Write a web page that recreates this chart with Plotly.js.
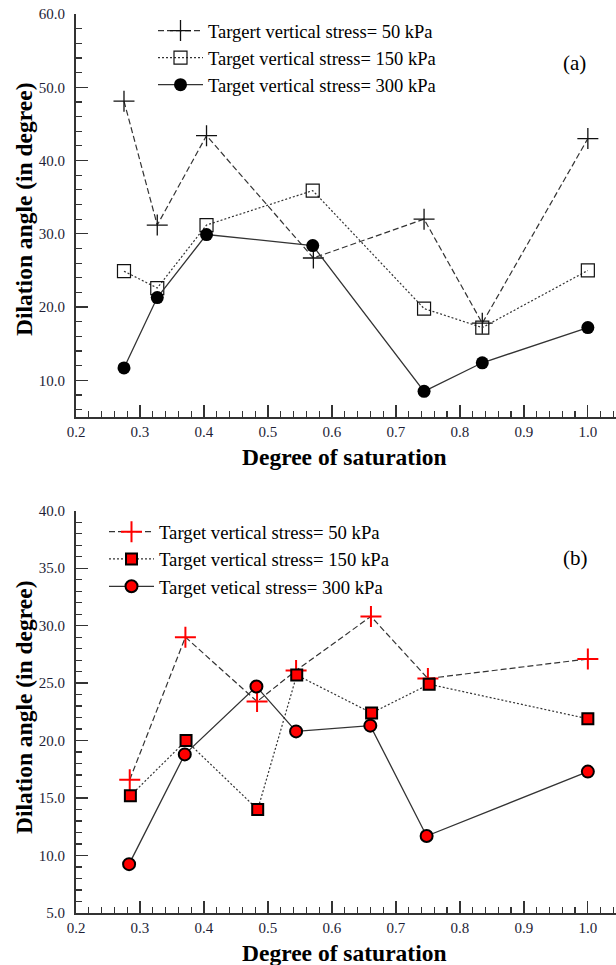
<!DOCTYPE html>
<html>
<head>
<meta charset="utf-8">
<script src="https://cdn.plot.ly/plotly-3.0.1.min.js"></script>
<style>
html,body{margin:0;padding:0;background:#fff;}
#chart{width:616px;height:965px;}
</style>
</head>
<body>
<div id="chart"></div>
<script>
// ---------- Data: panel (a) ----------
const legendA = ["Targert vertical stress= 50 kPa", "Target vertical stress= 150 kPa", "Target vertical stress= 300 kPa"];
const xA50  = [0.275, 0.327, 0.404, 0.571, 0.744, 0.835, 1.0];
const yA50  = [48.1, 31.2, 43.4, 26.7, 32.0, 17.8, 43.0];
const xA150 = [0.275, 0.327, 0.404, 0.570, 0.744, 0.835, 1.0];
const yA150 = [24.9, 22.6, 31.2, 35.9, 19.8, 17.2, 25.0];
const xA300 = [0.275, 0.327, 0.404, 0.570, 0.744, 0.835, 1.0];
const yA300 = [11.7, 21.3, 29.9, 28.4, 8.5, 12.4, 17.2];

// ---------- Data: panel (b) ----------
const legendB = ["Target vertical stress= 50 kPa", "Target vertical stress= 150 kPa", "Target vetical stress= 300 kPa"];
const xB50  = [0.284, 0.371, 0.483, 0.544, 0.661, 0.750, 1.0];
const yB50  = [16.6, 29.0, 23.4, 26.1, 30.8, 25.4, 27.1];
const xB150 = [0.285, 0.372, 0.484, 0.545, 0.662, 0.752, 1.0];
const yB150 = [15.2, 20.0, 14.0, 25.7, 22.4, 24.9, 21.9];
const xB300 = [0.283, 0.370, 0.482, 0.544, 0.660, 0.748, 1.0];
const yB300 = [9.25, 18.8, 24.7, 20.8, 21.3, 11.7, 17.3];

const xTitle = "Degree of saturation";
const yTitle = "Dilation angle (in degree)";
const panelLabels = ["(a)", "(b)"];

// ---------- Styling ----------
const SERIF = 'Liberation Serif, serif';
const LINE = '#333333';
const TICKCOL = '#1e1e36';

const traces = [
  {x: xA50, y: yA50, name: legendA[0], xaxis: 'x', yaxis: 'y', legend: 'legend', mode: 'lines+markers',
   line: {color: LINE, width: 1.2, dash: '6px,3px'},
   marker: {symbol: 'cross-thin', size: 15, line: {color: '#111', width: 1.3}}},
  {x: xA150, y: yA150, name: legendA[1], xaxis: 'x', yaxis: 'y', legend: 'legend', mode: 'lines+markers',
   line: {color: LINE, width: 1.2, dash: '2px,2px'},
   marker: {symbol: 'square-open', size: 13, color: '#111', line: {color: '#111', width: 1.2}}},
  {x: xA300, y: yA300, name: legendA[2], xaxis: 'x', yaxis: 'y', legend: 'legend', mode: 'lines+markers',
   line: {color: LINE, width: 1.3},
   marker: {symbol: 'circle', size: 13, color: '#000'}},
  {x: xB50, y: yB50, name: legendB[0], xaxis: 'x2', yaxis: 'y2', legend: 'legend2', mode: 'lines+markers',
   line: {color: LINE, width: 1.2, dash: '6px,3px'},
   marker: {symbol: 'cross-thin', size: 15, line: {color: '#ff0000', width: 2}}},
  {x: xB150, y: yB150, name: legendB[1], xaxis: 'x2', yaxis: 'y2', legend: 'legend2', mode: 'lines+markers',
   line: {color: LINE, width: 1.2, dash: '2px,2px'},
   marker: {symbol: 'square', size: 11, color: '#ff0000', line: {color: '#000', width: 2}}},
  {x: xB300, y: yB300, name: legendB[2], xaxis: 'x2', yaxis: 'y2', legend: 'legend2', mode: 'lines+markers',
   line: {color: LINE, width: 1.3},
   marker: {symbol: 'circle', size: 12, color: '#ff0000', line: {color: '#000', width: 2}}}
];

// pixel helpers for paper coordinates (plot area: x 76..616, y 14..913)
const L = 76, R = 0, T = 14, B = 52;
const W = 616 - L - R, H = 965 - T - B;
const px = v => (v - L) / W;
const py = v => (965 - B - v) / H;

function xaxisDef(anchor) {
  return {
    anchor: anchor, domain: [0, 1], range: [0.2, 1.044],
    dtick: 0.1, tick0: 0, tickformat: '.1f',
    ticks: 'inside', ticklen: 12, tickwidth: 1.3, tickcolor: LINE,
    minor: {dtick: 0.02, tick0: 0, ticks: 'inside', ticklen: 6, tickwidth: 1.2, tickcolor: LINE},
    showline: true, linecolor: LINE, linewidth: 2, showgrid: false, zeroline: false,
    tickfont: {family: SERIF, size: 15, color: TICKCOL},
    ticklabelstandoff: 0, fixedrange: true
  };
}
function yaxisDef(anchor, domain, range, dt, mdt) {
  return {
    anchor: anchor, domain: domain, range: range,
    dtick: dt, tick0: 0, tickformat: '.1f',
    ticks: 'inside', ticklen: 12, tickwidth: 1.3, tickcolor: LINE,
    minor: {dtick: mdt, tick0: 0, ticks: 'inside', ticklen: 6, tickwidth: 1.2, tickcolor: LINE},
    showline: true, linecolor: LINE, linewidth: 2, showgrid: false, zeroline: false,
    tickfont: {family: SERIF, size: 15, color: TICKCOL},
    ticklabelstandoff: 6, fixedrange: true
  };
}

const titleFont = {family: SERIF, size: 23.5, color: '#000', weight: 'bold'};

const layout = {
  width: 616, height: 965,
  margin: {l: L, r: R, t: T, b: B, pad: 0},
  paper_bgcolor: '#fff', plot_bgcolor: '#fff',
  showlegend: true,
  xaxis: xaxisDef('y'),
  yaxis: yaxisDef('x', [py(417), 1], [5, 60], 10, 2),
  xaxis2: xaxisDef('y2'),
  yaxis2: yaxisDef('x2', [0, py(510.7)], [5, 40], 5, 1),
  legend: {x: px(153), y: py(12), xanchor: 'left', yanchor: 'top', bgcolor: 'rgba(0,0,0,0)',
           itemwidth: 45, font: {family: SERIF, size: 18.5, color: '#000'}, tracegroupgap: 0},
  legend2: {x: px(104), y: py(513), xanchor: 'left', yanchor: 'top', bgcolor: 'rgba(0,0,0,0)',
           itemwidth: 45, font: {family: SERIF, size: 18.7, color: '#000'}, tracegroupgap: 0},
  annotations: [
    {text: '<b>' + xTitle + '</b>', xref: 'paper', yref: 'paper', x: px(344), y: py(457),
     xanchor: 'center', yanchor: 'middle', showarrow: false, font: titleFont},
    {text: '<b>' + xTitle + '</b>', xref: 'paper', yref: 'paper', x: px(344), y: py(953),
     xanchor: 'center', yanchor: 'middle', showarrow: false, font: titleFont},
    {text: '<b>' + yTitle + '</b>', xref: 'paper', yref: 'paper', x: px(24), y: py(210),
     xanchor: 'center', yanchor: 'middle', textangle: -90, showarrow: false, font: titleFont},
    {text: '<b>' + yTitle + '</b>', xref: 'paper', yref: 'paper', x: px(24), y: py(708),
     xanchor: 'center', yanchor: 'middle', textangle: -90, showarrow: false, font: titleFont},
    {text: panelLabels[0], xref: 'paper', yref: 'paper', x: px(574), y: py(63),
     xanchor: 'center', yanchor: 'middle', showarrow: false, font: {family: SERIF, size: 21, color: '#000'}},
    {text: panelLabels[1], xref: 'paper', yref: 'paper', x: px(575), y: py(558),
     xanchor: 'center', yanchor: 'middle', showarrow: false, font: {family: SERIF, size: 21, color: '#000'}}
  ]
};

Plotly.newPlot('chart', traces, layout, {staticPlot: true, displayModeBar: false});
</script>
</body>
</html>
